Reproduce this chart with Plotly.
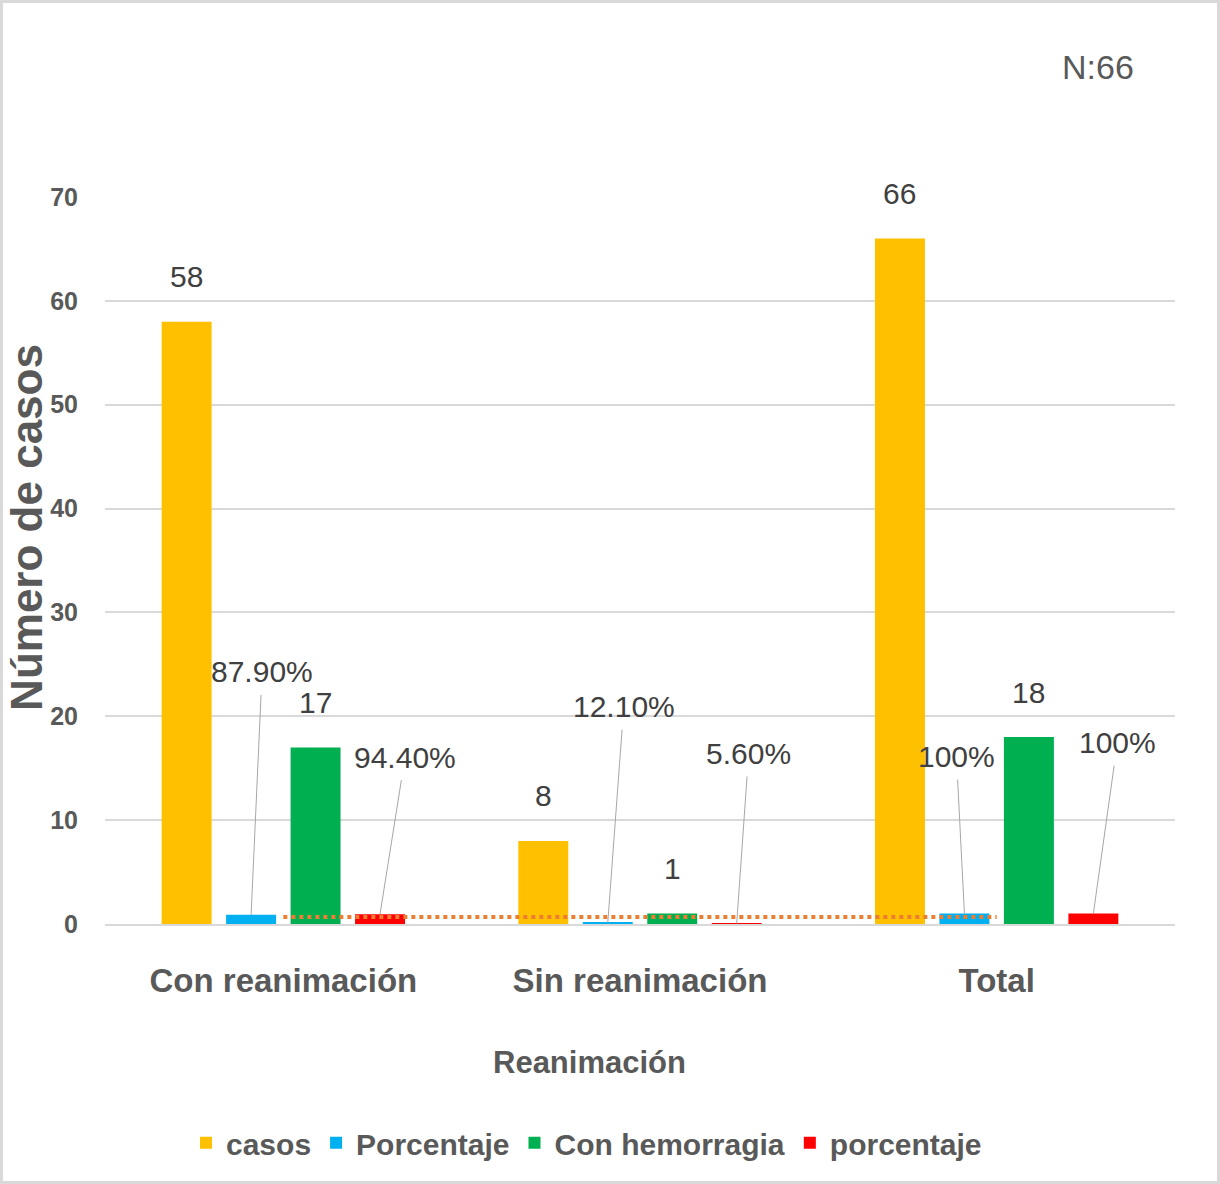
import plotly.graph_objects as go

# Datos de la tabla de reanimación
categorias = ["Con reanimación", "Sin reanimación", "Total"]
casos = [58, 8, 66]
porcentaje_casos = [0.879, 0.121, 1.0]
con_hemorragia = [17, 1, 18]
porcentaje_hemorragia = [0.944, 0.056, 1.0]
y_ticks = [0, 10, 20, 30, 40, 50, 60, 70]
total_n = 66

FONT = "Liberation Sans, Arial, sans-serif"
TICK_COLOR = "#595959"
LABEL_COLOR = "#404040"
GRID = "#D9D9D9"

series = [
    ("casos", casos, "#FFC000"),
    ("Porcentaje", porcentaje_casos, "#00B0F0"),
    ("Con hemorragia", con_hemorragia, "#00B050"),
    ("porcentaje", porcentaje_hemorragia, "#FF0000"),
]

BARGAP = 0.277
GROUPGAP = 0.225
n_series = len(series)
slot = (1 - BARGAP) / n_series


def bar_offset(i):
    """Horizontal offset (in category units) of the i-th bar inside a group."""
    return -(1 - BARGAP) / 2 + (i + 0.5) * slot


def pct_text(v):
    return "100%" if v >= 1 else f"{v * 100:.2f}%"


fig = go.Figure()
for name, vals, color in series:
    fig.add_trace(go.Bar(
        name=name, x=categorias, y=vals,
        marker=dict(color=color, line=dict(width=0)),
    ))

# Línea punteada del promedio del porcentaje
media_pct = sum(porcentaje_casos) / len(porcentaje_casos)
fig.add_trace(go.Scatter(
    x=categorias, y=[media_pct] * len(categorias), mode="lines",
    line=dict(color="#ED7D31", width=4, dash="4px,4px"),
    showlegend=False, hoverinfo="skip",
))

annotations = []
label_font = dict(family=FONT, size=30, color=LABEL_COLOR)

# Etiquetas de conteo sobre las barras
for i in (0, 2):
    vals = series[i][1]
    for j, v in enumerate(vals):
        annotations.append(dict(
            x=j + bar_offset(i), y=v, xref="x", yref="y",
            text=str(v), showarrow=False, yshift=45,
            xanchor="center", yanchor="middle", font=label_font,
        ))

# Etiquetas de porcentaje con líneas guía
pct_offsets = {
    1: [(11, -243), (16, -216), (-8, -157)],
    3: [(25, -157), (12, -170), (24, -171)],
}
for i, offs in pct_offsets.items():
    vals = series[i][1]
    for j, v in enumerate(vals):
        ax, ay = offs[j]
        annotations.append(dict(
            x=j + bar_offset(i), y=v, xref="x", yref="y",
            text=pct_text(v), showarrow=True, arrowhead=0, arrowwidth=1,
            arrowcolor="#A6A6A6", standoff=0, ax=ax, ay=ay,
            borderpad=6, font=label_font,
        ))

# Títulos y nota
annotations.append(dict(
    x=-0.074, y=0.546, xref="paper", yref="paper", text="Número de casos",
    textangle=-90, showarrow=False, xanchor="center", yanchor="middle",
    font=dict(family=FONT, size=44, color=TICK_COLOR, weight="bold"),
))
annotations.append(dict(
    x=0.453, y=-0.191, xref="paper", yref="paper", text="Reanimación",
    showarrow=False, xanchor="center", yanchor="middle",
    font=dict(family=FONT, size=31, color=TICK_COLOR, weight="bold"),
))
annotations.append(dict(
    x=0.928, y=1.179, xref="paper", yref="paper", text=f"N:{total_n}",
    showarrow=False, xanchor="center", yanchor="middle",
    font=dict(family=FONT, size=34, color=TICK_COLOR),
))

W, H = 1220, 1184
ml, mr, mt, mb = 105, 45, 197, 260
pw, ph = W - ml - mr, H - mt - mb

fig.update_layout(
    width=W, height=H, autosize=False,
    margin=dict(l=ml, r=mr, t=mt, b=mb),
    paper_bgcolor="white", plot_bgcolor="white",
    barmode="group", bargap=BARGAP, bargroupgap=GROUPGAP,
    annotations=annotations,
    legend=dict(
        orientation="h", x=0.45, y=-0.301, xanchor="center", yanchor="middle",
        font=dict(family=FONT, size=30, color=TICK_COLOR, weight="bold"),
        itemwidth=30, traceorder="normal",
    ),
    xaxis=dict(
        showgrid=False, showline=True, linecolor=GRID, linewidth=2,
        tickfont=dict(family=FONT, size=33, color=TICK_COLOR, weight="bold"),
        ticklabelstandoff=26, range=[-0.5, 2.5],
    ),
    yaxis=dict(
        range=[0, 70], tickvals=y_ticks, showgrid=True, gridcolor=GRID,
        gridwidth=2, zeroline=False, showline=False,
        tickfont=dict(family=FONT, size=25, color=TICK_COLOR, weight="bold"),
        ticklabelstandoff=26,
    ),
    shapes=[dict(
        type="rect", xref="paper", yref="paper",
        x0=(1.5 - ml) / pw, x1=(W - 1.5 - ml) / pw,
        y0=-(H - 1.5 - (mt + ph)) / ph, y1=(mt + ph - 1.5) / ph,
        line=dict(color=GRID, width=3), fillcolor="rgba(0,0,0,0)", layer="below",
    )],
    hovermode=False,
)

fig.write_html("out.html")
